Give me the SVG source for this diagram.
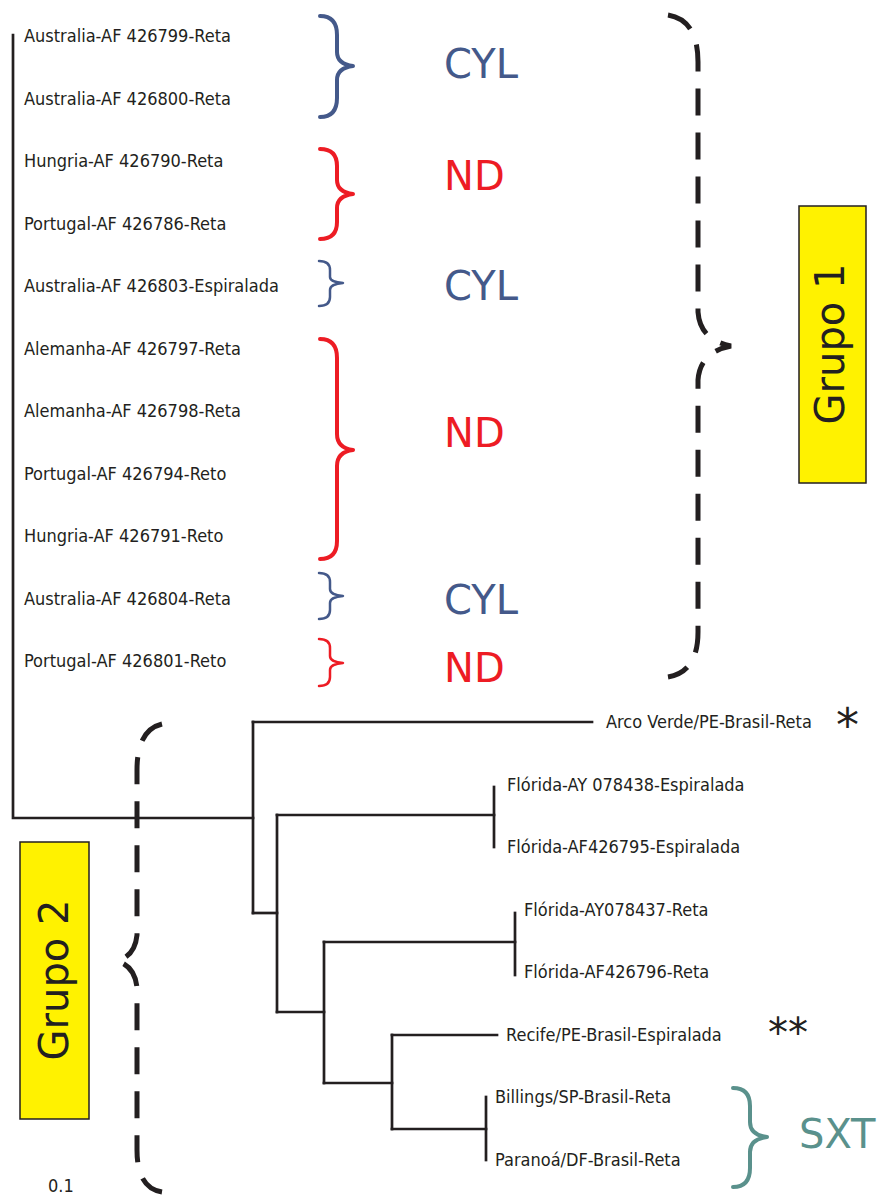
<svg xmlns="http://www.w3.org/2000/svg" width="877" height="1195" viewBox="0 0 877 1195">
<style>
.lbl{font-family:"DejaVu Sans Condensed","DejaVu Sans","Liberation Sans",sans-serif;font-stretch:condensed;font-size:18px;fill:#231f20}
.big{font-family:"DejaVu Sans","Liberation Sans",sans-serif;font-size:40px}
.cyl{fill:#44598a}
.nd{fill:#ed1c24}
.sxt{fill:#5a918c}
.tree{fill:none;stroke:#231f20;stroke-width:2.7;stroke-linecap:square}
.br{fill:none;stroke-linecap:round;stroke-linejoin:round}
.dash{fill:none;stroke:#231f20;stroke-width:5;stroke-dasharray:27 17}
.box{fill:#fff200;stroke:#231f20;stroke-width:1.5}
.ast{font-family:"DejaVu Sans","Liberation Sans",sans-serif;fill:#231f20}
</style>
<g id="connectors">
<path class="tree" d="M13,35 V818 H253"/>
<path class="tree" d="M253,722 V913"/>
<path class="tree" d="M253,722 H592"/>
<path class="tree" d="M253,913 H277"/>
<path class="tree" d="M277,815 V1012"/>
<path class="tree" d="M277,815 H494"/>
<path class="tree" d="M494,787 V847"/>
<path class="tree" d="M277,1012 H324"/>
<path class="tree" d="M324,942 V1083"/>
<path class="tree" d="M324,942 H515"/>
<path class="tree" d="M515,913 V975"/>
<path class="tree" d="M324,1083 H392"/>
<path class="tree" d="M392,1035 V1129"/>
<path class="tree" d="M392,1035 H497"/>
<path class="tree" d="M392,1129 H486"/>
<path class="tree" d="M486,1097 V1160"/>
</g>
<g id="leaves-grupo1">
<text class="lbl" x="24" y="42">Australia-AF 426799-Reta</text>
<text class="lbl" x="24" y="104.5">Australia-AF 426800-Reta</text>
<text class="lbl" x="24" y="167">Hungria-AF 426790-Reta</text>
<text class="lbl" x="24" y="229.5">Portugal-AF 426786-Reta</text>
<text class="lbl" x="24" y="292">Australia-AF 426803-Espiralada</text>
<text class="lbl" x="24" y="354.5">Alemanha-AF 426797-Reta</text>
<text class="lbl" x="24" y="417">Alemanha-AF 426798-Reta</text>
<text class="lbl" x="24" y="479.5">Portugal-AF 426794-Reto</text>
<text class="lbl" x="24" y="542">Hungria-AF 426791-Reto</text>
<text class="lbl" x="24" y="604.5">Australia-AF 426804-Reta</text>
<text class="lbl" x="24" y="667">Portugal-AF 426801-Reto</text>
</g>
<g id="leaves-grupo2">
<text class="lbl" x="606" y="728">Arco Verde/PE-Brasil-Reta</text>
<text class="lbl" x="507" y="790.5">Flórida-AY 078438-Espiralada</text>
<text class="lbl" x="507" y="853">Flórida-AF426795-Espiralada</text>
<text class="lbl" x="524" y="915.5">Flórida-AY078437-Reta</text>
<text class="lbl" x="524" y="978">Flórida-AF426796-Reta</text>
<text class="lbl" x="506" y="1040.5">Recife/PE-Brasil-Espiralada</text>
<text class="lbl" x="495" y="1103">Billings/SP-Brasil-Reta</text>
<text class="lbl" x="495" y="1165.5">Paranoá/DF-Brasil-Reta</text>
</g>
<g id="toxin-braces">
<path class="br" stroke="#44598a" stroke-width="4" d="M320,16 Q337,16 337,35 V52 Q337,64 353,66 Q337,68 337,80 V98 Q337,117 320,117"/>
<text class="big cyl" x="444" y="78">CYL</text>
<path class="br" stroke="#ed1c24" stroke-width="4" d="M320,149 Q337,149 337,166 V180 Q337,192 353,194 Q337,196 337,208 V222 Q337,239 320,239"/>
<text class="big nd" x="444" y="190">ND</text>
<path class="br" stroke="#44598a" stroke-width="2.5" d="M319,261 Q330,261 330,270 V277 Q330,282 343,283 Q330,284 330,290 V297 Q330,306 319,306"/>
<text class="big cyl" x="444" y="300">CYL</text>
<path class="br" stroke="#ed1c24" stroke-width="4" d="M320,339 Q337,339 337,358 V434 Q337,448 353,450 Q337,452 337,466 V541 Q337,559 320,559"/>
<text class="big nd" x="444" y="447">ND</text>
<path class="br" stroke="#44598a" stroke-width="2.5" d="M319,573 Q330,573 330,582 V589 Q330,595 343,596 Q330,597 330,603 V610 Q330,619 319,619"/>
<text class="big cyl" x="444" y="614">CYL</text>
<path class="br" stroke="#ed1c24" stroke-width="2.5" d="M319,639 Q330,639 330,648 V656 Q330,662 343,663 Q330,664 330,670 V677 Q330,686 319,686"/>
<text class="big nd" x="444" y="682">ND</text>
<path class="br" stroke="#5a918c" stroke-width="4" d="M733,1088 Q750,1088 750,1106 V1122 Q750,1135 767,1137 Q750,1139 750,1152 V1168 Q750,1187 733,1187"/>
<text class="big sxt" x="799" y="1148">SXT</text>
</g>
<g id="grupo1">
<path class="dash" d="M668,15 Q698,20 698,62 V312 Q700,340 731,346 Q700,352 698,380 V632 Q698,672 668,677"/>
<rect class="box" x="799" y="206" width="67" height="277"/>
<text class="big" fill="#231f20" transform="translate(844,344) rotate(-90)" text-anchor="middle">Grupo 1</text>
</g>
<g id="grupo2">
<path class="dash" d="M162,724 Q137,730 137,770 V935 Q135,956 117,961 Q135,966 137,988 V1150 Q137,1188 162,1192"/>
<rect class="box" x="20" y="842" width="69" height="277"/>
<text class="big" fill="#231f20" transform="translate(68,980) rotate(-90)" text-anchor="middle">Grupo 2</text>
</g>
<g id="markers">
<text class="ast" x="836" y="741" font-size="46">*</text>
<text class="ast" x="768" y="1047" font-size="40">**</text>
<text class="lbl" x="48" y="1192">0.1</text>
</g>
</svg>
